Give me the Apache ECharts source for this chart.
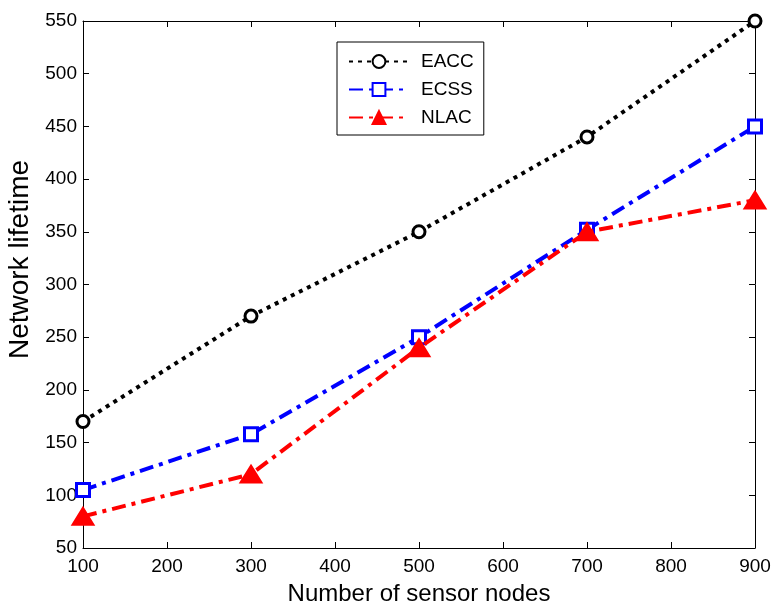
<!DOCTYPE html>
<html><head><meta charset="utf-8">
<script src="https://cdn.jsdelivr.net/npm/echarts@6/dist/echarts.min.js"></script>
<style>html,body{margin:0;padding:0;background:#fff}#c{width:772px;height:607px}</style>
</head><body><div id="c"></div>
<script>
const categories = [100, 300, 500, 700, 900];
const eacc = [170, 270, 350, 440, 550];
const ecss = [105, 158, 250, 352, 450];
const nlac = [80, 120, 240, 350, 380];
const seriesNames = ['EACC', 'ECSS', 'NLAC'];

const font = 'Liberation Sans, Arial, sans-serif';
const chart = echarts.init(document.getElementById('c'));
const pairs = a => categories.map((x, i) => [x, a[i]]);
const axisCommon = {
  axisLine: { show: true, onZero: false, lineStyle: { color: '#000', width: 1 } },
  axisTick: { show: true, inside: true, length: 6, lineStyle: { color: '#000' } },
  splitLine: { show: false }
};
chart.setOption({
  animation: false,
  backgroundColor: '#fff',
  grid: { left: 83, right: 17, top: 21, bottom: 59, containLabel: false, outerBoundsMode: 'none' },
  legend: {
    orient: 'vertical', left: 337, top: 42,
    data: seriesNames,
    itemWidth: 60, itemHeight: 16, itemGap: 9,
    borderColor: '#000', borderWidth: 1, borderRadius: 0,
    padding: [10, 10, 8, 11],
    textStyle: { fontFamily: font, fontSize: 19, color: '#000', padding: [0, 0, 0, 7] },
    backgroundColor: '#fff'
  },
  xAxis: [
    Object.assign({ type: 'value', min: 100, max: 900, interval: 100, position: 'bottom',
      name: 'Number of sensor nodes', nameLocation: 'middle', nameGap: 34,
      nameTextStyle: { fontFamily: font, fontSize: 24, color: '#000' },
      axisLabel: { fontFamily: font, fontSize: 19, color: '#000', margin: 9 } }, axisCommon),
    Object.assign({ type: 'value', min: 100, max: 900, interval: 100, position: 'top',
      axisLabel: { show: false } }, axisCommon)
  ],
  yAxis: [
    Object.assign({ type: 'value', min: 50, max: 550, interval: 50, position: 'left',
      name: 'Network lifetime', nameLocation: 'middle', nameGap: 48,
      nameTextStyle: { fontFamily: font, fontSize: 28, color: '#000', padding: [0, 0, 0, 50] },
      axisLabel: { fontFamily: font, fontSize: 19, color: '#000', margin: 6 } }, axisCommon),
    Object.assign({ type: 'value', min: 50, max: 550, interval: 50, position: 'right',
      axisLabel: { show: false } }, axisCommon)
  ],
  series: [
    { name: 'EACC', type: 'line', data: pairs(eacc), symbol: 'circle', symbolSize: 12,
      itemStyle: { color: '#fff', borderColor: '#000', borderWidth: 3 },
      lineStyle: { color: '#000', width: 4, type: [4, 5] }, z: 3 },
    { name: 'ECSS', type: 'line', data: pairs(ecss), symbol: 'rect', symbolSize: 13,
      itemStyle: { color: '#fff', borderColor: '#0000ff', borderWidth: 3 },
      lineStyle: { color: '#0000ff', width: 4, type: [14, 6, 4, 6] }, z: 4 },
    { name: 'NLAC', type: 'line', data: pairs(nlac), symbol: 'triangle', symbolSize: [21, 17],
      itemStyle: { color: '#ff0000', borderColor: '#ff0000', borderWidth: 2 },
      lineStyle: { color: '#ff0000', width: 4, type: [14, 6, 4, 6] }, z: 5 }
  ]
});
</script></body></html>
